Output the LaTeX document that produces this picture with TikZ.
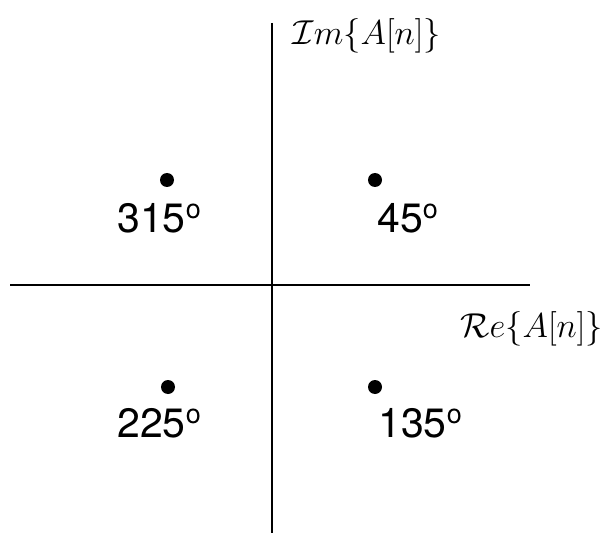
\documentclass[tikz,border=0pt]{standalone}
\usepackage{fontspec}
\setsansfont{TeX Gyre Heros}
\newcommand{\dg}{\raisebox{0.62ex}{\fontsize{13.5}{13.5}\selectfont o}}
\begin{document}
\begin{tikzpicture}[x=0.5pt, y=-0.5pt,
  pt/.style={circle, fill=black, inner sep=0pt, minimum size=7pt},
  deg/.style={anchor=base west, inner sep=0pt, font=\sffamily\fontsize{20.5}{24}\selectfont},
  axlbl/.style={anchor=base west, inner sep=0pt, font=\fontsize{19}{22}\selectfont}
]
  \useasboundingbox (0,0) rectangle (616,535);
  % axes
  \coordinate (imtop) at (272, 23);
  \coordinate (imbot) at (272, 533);
  \coordinate (releft) at (10, 285);
  \coordinate (reright) at (530, 285);
  \draw[line width=0.6pt] (imtop) -- (imbot);
  \draw[line width=0.6pt] (releft) -- (reright);
  \node[axlbl] (imlbl) at (292, 45)  {$\mathcal{I}m\{A[n]\}$};
  \node[axlbl] (relbl) at (460, 337) {$\mathcal{R}e\{A[n]\}$};
  % constellation points
  \node[pt] (p315) at (167, 180) {};
  \node[pt] (p45)  at (375, 180) {};
  \node[pt] (p225) at (168, 387) {};
  \node[pt] (p135) at (375, 387) {};
  \node[deg] (l315) at (117, 232) {315\dg};
  \node[deg] (l45)  at (377, 232) {45\dg};
  \node[deg] (l225) at (117, 437) {225\dg};
  \node[deg] (l135) at (378, 437) {135\dg};
\end{tikzpicture}
\end{document}
